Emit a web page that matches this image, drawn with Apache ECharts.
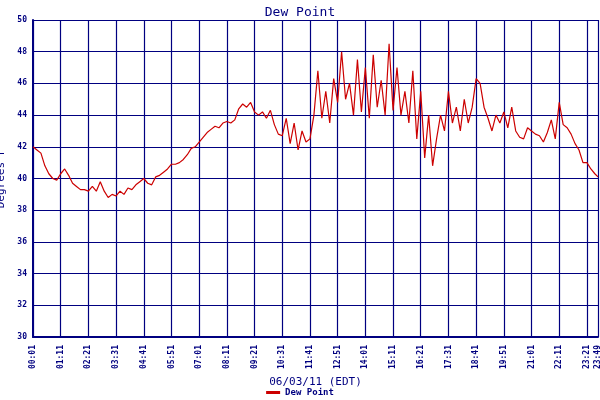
<!DOCTYPE html>
<html>
<head>
<meta charset="utf-8">
<script src="https://cdn.jsdelivr.net/npm/echarts@6/dist/echarts.min.js"></script>
<style>
  html, body { margin: 0; padding: 0; background: #fff; }
  #chart { width: 600px; height: 400px; }
</style>
</head>
<body>
<div id="chart"></div>
<script>
// dew point readings, one every 10 minutes from 00:01, last one at 23:49
const stepMin = 10;
const lastMin = 1428;
const dewPoint = [
  42.0, 41.8, 41.6, 40.8, 40.3, 40.0,
  39.9, 40.3, 40.6, 40.2, 39.7, 39.5,
  39.3, 39.3, 39.2, 39.5, 39.2, 39.8,
  39.2, 38.8, 39.0, 38.9, 39.2, 39.0,
  39.4, 39.3, 39.6, 39.8, 40.0, 39.7,
  39.6, 40.1, 40.2, 40.4, 40.6, 40.9,
  40.9, 41.0, 41.2, 41.5, 41.9, 42.0,
  42.3, 42.6, 42.9, 43.1, 43.3, 43.2,
  43.5, 43.6, 43.5, 43.7, 44.4, 44.7,
  44.5, 44.8, 44.2, 44.0, 44.2, 43.8,
  44.3, 43.4, 42.8, 42.7, 43.8, 42.2,
  43.5, 41.8, 43.0, 42.3, 42.5, 44.0,
  46.8, 43.8, 45.5, 43.5, 46.3, 44.8,
  48.0, 45.0, 46.0, 44.0, 47.5, 44.2,
  47.0, 43.8, 47.8, 44.5, 46.2, 44.0,
  48.5, 44.3, 47.0, 44.0, 45.5, 43.5,
  46.8, 42.5, 45.5, 41.3, 44.0, 40.8,
  42.5, 44.0, 43.0, 45.5, 43.5, 44.5,
  43.0, 45.0, 43.5, 44.5, 46.3, 46.0,
  44.5, 43.8, 43.0, 44.0, 43.5, 44.2,
  43.2, 44.5, 43.0, 42.6, 42.5, 43.2,
  43.0, 42.8, 42.7, 42.3, 42.9, 43.7,
  42.5, 44.8, 43.4, 43.2, 42.8, 42.2,
  41.8, 41.0, 41.0, 40.6, 40.3, 40.1
];
const yTicks = [30, 32, 34, 36, 38, 40, 42, 44, 46, 48, 50];

const navy = '#000080';
const font = 'DejaVu Sans Mono';

function fmtTime(m) {
  const t = m + 1;
  const h = Math.floor(t / 60), mm = t % 60;
  return String(h).padStart(2, '0') + ':' + String(mm).padStart(2, '0');
}

const seriesData = dewPoint.map((v, i) => [Math.min(i * stepMin, lastMin), v]);

const chart = echarts.init(document.getElementById('chart'));
chart.setOption({
  animation: false,
  backgroundColor: '#fff',
  title: {
    text: 'Dew Point', left: 'center', top: 1,
    textStyle: { color: navy, fontFamily: font, fontWeight: 'normal', fontSize: 13 }
  },
  legend: {
    bottom: -2, left: 'center', itemWidth: 14, itemHeight: 3, icon: 'rect',
    textStyle: { color: navy, fontFamily: font, fontSize: 9, fontWeight: 'bold' },
    data: ['Dew Point']
  },
  grid: { left: 33, right: 2, top: 20, bottom: 63, containLabel: false, outerBoundsMode: 'none' },
  xAxis: {
    type: 'value', min: 0, max: lastMin, interval: 70,
    name: '06/03/11 (EDT)', nameLocation: 'middle', nameGap: 40,
    nameTextStyle: { color: navy, fontFamily: font, fontSize: 11 },
    axisLine: { lineStyle: { color: navy, width: 2 } },
    axisTick: { show: false },
    axisLabel: {
      rotate: 90, color: navy, fontFamily: font, fontSize: 8, fontWeight: 'bold',
      showMaxLabel: true, formatter: v => fmtTime(v)
    },
    splitLine: { show: true, lineStyle: { color: navy, width: 1.2 } }
  },
  yAxis: {
    type: 'value', min: yTicks[0], max: yTicks[yTicks.length - 1], interval: 2,
    name: 'Degrees F', nameLocation: 'middle', nameGap: 24,
    nameTextStyle: { color: navy, fontFamily: font, fontSize: 11 },
    axisLine: { show: true, lineStyle: { color: navy, width: 2 } },
    axisTick: { show: false },
    axisLabel: { color: navy, fontFamily: font, fontSize: 8, fontWeight: 'bold', margin: 6 },
    splitLine: { show: true, lineStyle: { color: navy, width: 1.2 } }
  },
  series: [{
    name: 'Dew Point', type: 'line', data: seriesData,
    showSymbol: false, color: '#cc0000',
    lineStyle: { color: '#cc0000', width: 1.2 }
  }]
});
</script>
</body>
</html>
